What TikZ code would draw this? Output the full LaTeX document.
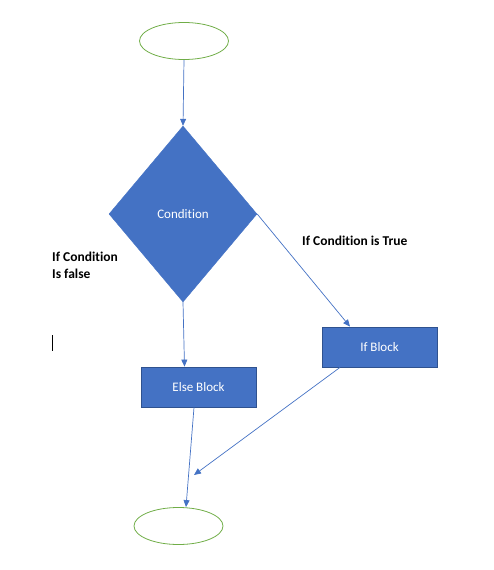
\documentclass[tikz,border=0pt]{standalone}
\usepackage{fontspec}
\setmainfont{Carlito}[Ligatures=NoCommon]
\usetikzlibrary{shapes.geometric,arrows.meta}

\definecolor{officeblue}{HTML}{4472C4}
\definecolor{officeedge}{HTML}{2F528F}
\definecolor{officegreen}{HTML}{70AD47}

\tikzset{
  terminal/.style={ellipse, draw=officegreen, thick, minimum width=89pt, minimum height=37pt, inner sep=0pt},
  decision/.style={diamond, fill=officeblue, draw=officeblue, minimum width=148pt, minimum height=176pt, inner sep=0pt, text=white, font=\fontsize{13}{15}\selectfont},
  block/.style={rectangle, fill=officeblue, draw=officeedge, thick, minimum width=115pt, minimum height=40pt, text=white, font=\fontsize{13}{15}\selectfont},
  flow/.style={officeblue, line width=0.7pt, -{Triangle[length=7pt,width=6pt]}},
  note/.style={font=\bfseries\fontsize{13.5}{16.5}\selectfont, align=left, anchor=base west, inner sep=0pt}
}

\begin{document}
\begin{tikzpicture}[x=1pt,y=-1pt]
\useasboundingbox (0,0) rectangle (493,570);
\node[terminal] (start) at (184,41) {};
\node[decision] (cond) at (183,214) {Condition};
\node[block] (else) at (198.5,387) {Else Block};
\node[block] (ifb) at (379.5,347) {If Block};
\node[terminal] (stop) at (178.5,526) {};
\coordinate (join) at (194,475);

\draw[flow] (start.south) -- (cond.north);
\draw[flow] (cond.south) -- ([xshift=-14pt]else.north);
\draw[flow] (cond.east) -- ([xshift=-29.5pt]ifb.north);
\draw[flow] ([xshift=-39.5pt]ifb.south) -- (join);
\draw[flow] ([xshift=-4.5pt]else.south) -- ([xshift=7.5pt]stop.north);

\node[note] (truelbl) at (302,245) {If Condition is True};
\node[note] (falselbl) at (52,278) {If Condition\\Is false};
\draw[black, line width=0.8pt] (52,335) -- (52,351);
\end{tikzpicture}
\end{document}
